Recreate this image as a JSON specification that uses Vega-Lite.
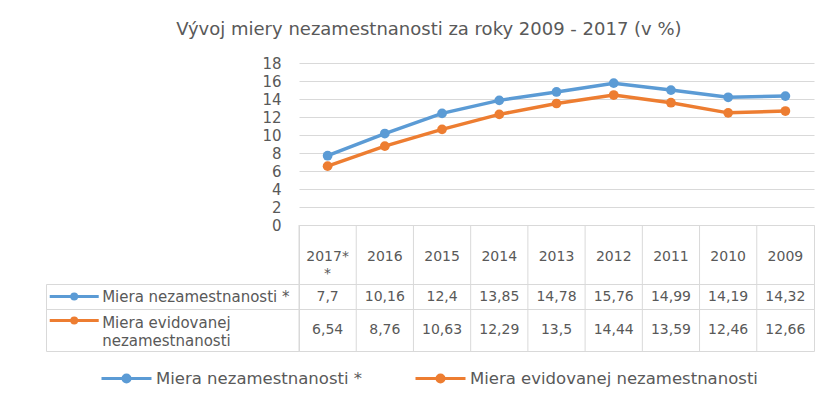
{
  "$schema": "https://vega.github.io/schema/vega-lite/v6.json",
  "padding": {"left": 43, "top": 21, "right": 0, "bottom": 0},
  "title": {"text": "Vývoj miery nezamestnanosti za roky 2009 - 2017 (v %)", "fontSize": 18, "fontWeight": "normal", "color": "#595959", "font": "DejaVu Sans", "anchor": "middle", "offset": 17},
  "datasets": {
    "series": [
      {"year": "2017**", "series": "Miera nezamestnanosti *", "value": 7.7},
      {"year": "2016", "series": "Miera nezamestnanosti *", "value": 10.16},
      {"year": "2015", "series": "Miera nezamestnanosti *", "value": 12.4},
      {"year": "2014", "series": "Miera nezamestnanosti *", "value": 13.85},
      {"year": "2013", "series": "Miera nezamestnanosti *", "value": 14.78},
      {"year": "2012", "series": "Miera nezamestnanosti *", "value": 15.76},
      {"year": "2011", "series": "Miera nezamestnanosti *", "value": 14.99},
      {"year": "2010", "series": "Miera nezamestnanosti *", "value": 14.19},
      {"year": "2009", "series": "Miera nezamestnanosti *", "value": 14.32},
      {"year": "2017**", "series": "Miera evidovanej nezamestnanosti", "value": 6.54},
      {"year": "2016", "series": "Miera evidovanej nezamestnanosti", "value": 8.76},
      {"year": "2015", "series": "Miera evidovanej nezamestnanosti", "value": 10.63},
      {"year": "2014", "series": "Miera evidovanej nezamestnanosti", "value": 12.29},
      {"year": "2013", "series": "Miera evidovanej nezamestnanosti", "value": 13.5},
      {"year": "2012", "series": "Miera evidovanej nezamestnanosti", "value": 14.44},
      {"year": "2011", "series": "Miera evidovanej nezamestnanosti", "value": 13.59},
      {"year": "2010", "series": "Miera evidovanej nezamestnanosti", "value": 12.46},
      {"year": "2009", "series": "Miera evidovanej nezamestnanosti", "value": 12.66}
    ],
    "years": [
      {"year": "2017**", "label": "2017*\n*"},
      {"year": "2016", "label": "2016"},
      {"year": "2015", "label": "2015"},
      {"year": "2014", "label": "2014"},
      {"year": "2013", "label": "2013"},
      {"year": "2012", "label": "2012"},
      {"year": "2011", "label": "2011"},
      {"year": "2010", "label": "2010"},
      {"year": "2009", "label": "2009"}
    ],
    "rows": [
      {"series": "Miera nezamestnanosti *", "label": "Miera nezamestnanosti *"},
      {"series": "Miera evidovanej nezamestnanosti", "label": "Miera evidovanej\nnezamestnanosti"}
    ]
  },
  "columns": 2,
  "spacing": 0,
  "bounds": "flush",
  "align": "each",
  "resolve": {"scale": {"color": "shared"}, "legend": {"color": "shared"}},
  "concat": [
    {
      "width": 253, "height": 162,
      "data": {"values": [{"a": 1}]},
      "mark": {"type": "text", "text": ""}
    },
    {
      "width": 515, "height": 162,
      "data": {"name": "series"},
      "encoding": {
        "x": {"field": "year", "type": "ordinal", "sort": null, "scale": {"type": "point", "padding": 0.5}, "axis": null},
        "y": {"field": "value", "type": "quantitative", "scale": {"domain": [0, 18], "nice": false},
          "axis": {"values": [0, 2, 4, 6, 8, 10, 12, 14, 16, 18], "grid": true, "gridColor": "#d9d9d9", "gridWidth": 1, "domain": false, "ticks": false, "labelFontSize": 15, "labelColor": "#595959", "labelPadding": 18, "title": null}},
        "color": {"field": "series", "type": "nominal", "sort": null,
          "scale": {"domain": ["Miera nezamestnanosti *", "Miera evidovanej nezamestnanosti"], "range": ["#5b9bd5", "#ed7d31"]},
          "legend": {"title": null, "orient": "bottom", "direction": "horizontal",
            "symbolType": "M-1,0L1,0M-0.14,0A0.14,0.14,0,1,1,0.14,0A0.14,0.14,0,1,1,-0.14,0Z",
            "symbolSize": 2500, "symbolStrokeWidth": 3, "labelFontSize": 16.5, "labelColor": "#595959",
            "labelOffset": 3, "columnPadding": 46, "offset": 0, "labelLimit": 400,
            "encode": {"symbols": {"update": {"fill": {"scale": "color", "field": "value"}, "stroke": {"scale": "color", "field": "value"}, "opacity": {"value": 1}}}}}}
      },
      "layer": [
        {"mark": {"type": "line", "strokeWidth": 3.5}},
        {"mark": {"type": "point", "filled": true, "opacity": 1, "size": 95}}
      ]
    },
    {
      "width": 253, "height": 59,
      "data": {"values": [{"a": 1}]},
      "mark": {"type": "text", "text": ""}
    },
    {
      "width": 515, "height": 59,
      "view": {"stroke": "#d9d9d9"},
      "data": {"name": "years"},
      "layer": [
        {"mark": {"type": "rule", "color": "#d9d9d9", "strokeWidth": 1},
         "encoding": {"x": {"field": "year", "type": "ordinal", "sort": null, "bandPosition": 0, "scale": {"type": "band", "paddingInner": 0, "paddingOuter": 0}, "axis": null}}},
        {"mark": {"type": "text", "fontSize": 14, "color": "#595959", "lineBreak": "\n", "lineHeight": 17, "dy": 2},
         "encoding": {"x": {"field": "year", "type": "ordinal", "sort": null, "axis": null}, "text": {"field": "label"}}}
      ]
    },
    {
      "width": 253, "height": 25,
      "view": {"stroke": "#d9d9d9"},
      "data": {"name": "rows"},
      "transform": [{"filter": "datum.series === 'Miera nezamestnanosti *'"}],
      "layer": [
        {"mark": {"type": "point", "shape": "M-1,0L1,0M-0.1,0A0.1,0.1,0,1,1,0.1,0A0.1,0.1,0,1,1,-0.1,0Z", "size": 2401, "filled": true, "fill": "#5b9bd5", "stroke": "#5b9bd5", "strokeWidth": 3, "opacity": 1},
         "encoding": {"x": {"datum": 29, "type": "quantitative", "scale": {"domain": [0, 253]}, "axis": null}}},
        {"mark": {"type": "text", "align": "left", "fontSize": 15, "color": "#595959"},
         "encoding": {"x": {"datum": 57.7, "type": "quantitative"}, "text": {"field": "label"}}}
      ]
    },
    {
      "width": 515, "height": 25,
      "view": {"stroke": "#d9d9d9"},
      "data": {"name": "series"},
      "transform": [{"filter": "datum.series === 'Miera nezamestnanosti *'"}],
      "layer": [
        {"mark": {"type": "rule", "color": "#d9d9d9", "strokeWidth": 1},
         "encoding": {"x": {"field": "year", "type": "ordinal", "sort": null, "bandPosition": 0, "scale": {"type": "band", "paddingInner": 0, "paddingOuter": 0}, "axis": null}}},
        {"mark": {"type": "text", "fontSize": 14, "color": "#595959"},
         "encoding": {"x": {"field": "year", "type": "ordinal", "sort": null, "axis": null}, "text": {"field": "value", "type": "quantitative", "format": ".2~f"}}}
      ]
    },
    {
      "width": 253, "height": 42,
      "view": {"stroke": "#d9d9d9"},
      "data": {"name": "rows"},
      "transform": [{"filter": "datum.series === 'Miera evidovanej nezamestnanosti'"}],
      "layer": [
        {"mark": {"type": "point", "shape": "M-1,0L1,0M-0.1,0A0.1,0.1,0,1,1,0.1,0A0.1,0.1,0,1,1,-0.1,0Z", "size": 2401, "filled": true, "fill": "#ed7d31", "stroke": "#ed7d31", "strokeWidth": 3, "opacity": 1, "yOffset": -9.5},
         "encoding": {"x": {"datum": 29, "type": "quantitative", "scale": {"domain": [0, 253]}, "axis": null}}},
        {"mark": {"type": "text", "align": "left", "fontSize": 15, "color": "#595959", "lineBreak": "\n", "lineHeight": 18, "dy": -7},
         "encoding": {"x": {"datum": 57.7, "type": "quantitative"}, "text": {"field": "label"}}}
      ]
    },
    {
      "width": 515, "height": 42,
      "view": {"stroke": "#d9d9d9"},
      "data": {"name": "series"},
      "transform": [{"filter": "datum.series === 'Miera evidovanej nezamestnanosti'"}],
      "layer": [
        {"mark": {"type": "rule", "color": "#d9d9d9", "strokeWidth": 1},
         "encoding": {"x": {"field": "year", "type": "ordinal", "sort": null, "bandPosition": 0, "scale": {"type": "band", "paddingInner": 0, "paddingOuter": 0}, "axis": null}}},
        {"mark": {"type": "text", "fontSize": 14, "color": "#595959"},
         "encoding": {"x": {"field": "year", "type": "ordinal", "sort": null, "axis": null}, "text": {"field": "value", "type": "quantitative", "format": ".2~f"}}}
      ]
    }
  ],
  "config": {
    "view": {"stroke": null},
    "font": "DejaVu Sans",
    "text": {"font": "DejaVu Sans", "color": "#595959"},
    "axis": {"labelFont": "DejaVu Sans"},
    "legend": {"labelFont": "DejaVu Sans", "layout": {"bottom": {"anchor": "middle"}}},
    "locale": {"number": {"decimal": ",", "thousands": " ", "grouping": [3], "currency": ["", " €"]}}
  }
}
